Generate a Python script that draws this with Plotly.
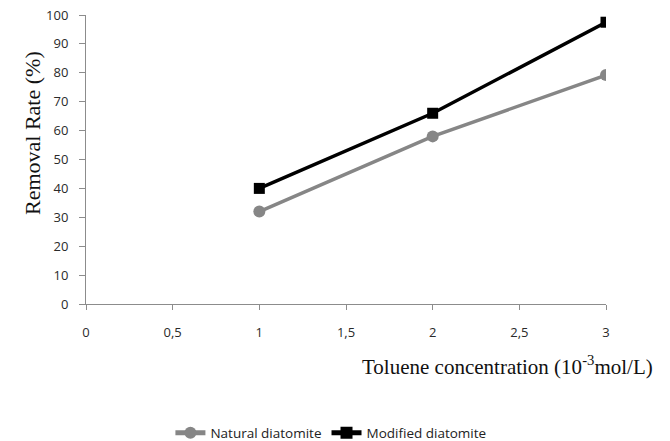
import plotly.graph_objects as go

concentration = [1, 2, 3]
natural = [32, 58, 79.2]
modified = [40, 66, 97.5]
x_ticks = [0, 0.5, 1, 1.5, 2, 2.5, 3]
x_tick_labels = ["0", "0,5", "1", "1,5", "2", "2,5", "3"]
y_ticks = list(range(0, 101, 10))

fig = go.Figure()
fig.add_trace(go.Scatter(
    x=concentration, y=natural, name="Natural diatomite", mode="lines+markers",
    line=dict(color="#868686", width=3.5),
    marker=dict(symbol="circle", size=12, color="#868686"),
))
fig.add_trace(go.Scatter(
    x=concentration, y=modified, name="Modified diatomite", mode="lines+markers",
    line=dict(color="#000000", width=3.5),
    marker=dict(symbol="square", size=11, color="#000000"),
))

tick_font = dict(family="Open Sans, Liberation Sans, sans-serif", size=13, color="#2a2a2a")
fig.update_layout(
    width=670, height=441,
    margin=dict(l=86, r=64, t=15, b=137, autoexpand=False),
    paper_bgcolor="white", plot_bgcolor="white",
    showlegend=True,
    legend=dict(orientation="h", x=0.471, xanchor="center", y=-0.446, yanchor="middle",
                font=dict(family="Open Sans, Liberation Sans, sans-serif", size=13.5, color="#222"),
                tracegroupgap=0, itemsizing="constant"),
    xaxis=dict(range=[0, 3], tickvals=x_ticks, ticktext=x_tick_labels,
               showgrid=False, zeroline=False, showline=True, linecolor="#8c8c8c", linewidth=1,
               ticks="outside", ticklen=5, tickcolor="#8c8c8c", tickfont=tick_font,
               ticklabelstandoff=11),
    yaxis=dict(range=[0, 100], tickvals=y_ticks,
               showgrid=False, zeroline=False, showline=True, linecolor="#8c8c8c", linewidth=1,
               ticks="outside", ticklen=6, tickcolor="#8c8c8c", tickfont=tick_font,
               ticklabelstandoff=8),
)
fig.add_annotation(
    text="Toluene concentration (10<sup>-3</sup>mol/L)", xref="paper", yref="paper",
    x=(655 - 86) / 520, y=(304 - 365) / 289, xanchor="right", yanchor="middle",
    showarrow=False, font=dict(family="Liberation Serif, Times New Roman, serif", size=21, color="#111"),
)
fig.add_annotation(
    text="Removal Rate (%)", xref="paper", yref="paper",
    x=(32 - 86) / 520, y=(304 - 133) / 289, xanchor="center", yanchor="middle",
    textangle=-90, showarrow=False,
    font=dict(family="Liberation Serif, Times New Roman, serif", size=22, color="#111"),
)
fig.write_html("out.html")
